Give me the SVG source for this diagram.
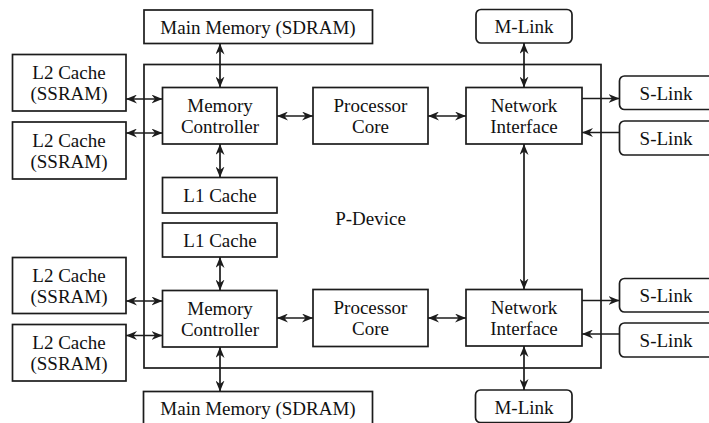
<svg xmlns="http://www.w3.org/2000/svg" width="709" height="423" viewBox="0 0 709 423">
  <defs>
    <style>
      .box { fill: #fff; stroke: #1c1c1c; stroke-width: 1.7; }
      .frame { fill: none; stroke: #1c1c1c; stroke-width: 1.7; }
      .lbl { font-family: "Liberation Serif", "DejaVu Serif", "Noto Serif", "Times New Roman", Times, serif; font-size: 19px; fill: #111; text-anchor: middle; }
      .wire { fill: none; stroke: #1c1c1c; stroke-width: 1.7; }
      .both { marker-start: url(#head); marker-end: url(#head); }
      .one { marker-end: url(#head); }
    </style>
    <marker id="head" markerUnits="userSpaceOnUse" viewBox="0 0 11 9" markerWidth="11" markerHeight="9" refX="11" refY="4.5" orient="auto-start-reverse">
      <path d="M0,0 L11,4.5 L0,9 L3.5,4.5 z" fill="#1c1c1c"/>
    </marker>
  </defs>

  <rect width="709" height="423" fill="#fff"/>

  <!-- P-Device enclosure -->
  <g id="p-device">
    <rect class="frame" x="144" y="64.5" width="457" height="303.5"/>
    <text class="lbl" x="370.5" y="225">P-Device</text>
  </g>

  <!-- Upper half -->
  <g id="main-memory-top">
    <rect class="box" x="144" y="10" width="228.5" height="33.5"/>
    <text class="lbl" x="258" y="34">Main Memory (SDRAM)</text>
  </g>
  <g id="mlink-top">
    <rect class="box" x="476" y="9.5" width="96" height="33.5" rx="5"/>
    <text class="lbl" x="524" y="33">M-Link</text>
  </g>
  <g id="l2-a">
    <rect class="box" x="12.5" y="54.5" width="113.5" height="56.5"/>
    <text class="lbl" x="69" y="79">L2 Cache</text>
    <text class="lbl" x="69" y="100">(SSRAM)</text>
  </g>
  <g id="l2-b">
    <rect class="box" x="12.5" y="122" width="113.5" height="57"/>
    <text class="lbl" x="69" y="147">L2 Cache</text>
    <text class="lbl" x="69" y="168">(SSRAM)</text>
  </g>
  <g id="memctl-top">
    <rect class="box" x="162.5" y="87.5" width="114.5" height="56.5"/>
    <text class="lbl" x="220" y="112">Memory</text>
    <text class="lbl" x="220" y="133">Controller</text>
  </g>
  <g id="core-top">
    <rect class="box" x="313" y="87.5" width="115" height="56.5"/>
    <text class="lbl" x="370.5" y="112">Processor</text>
    <text class="lbl" x="370.5" y="133">Core</text>
  </g>
  <g id="netif-top">
    <rect class="box" x="466" y="87.5" width="116" height="56.5"/>
    <text class="lbl" x="524" y="112">Network</text>
    <text class="lbl" x="524" y="133">Interface</text>
  </g>
  <g id="slink-1">
    <rect class="box" x="619.5" y="76" width="100" height="33.5" rx="5"/>
    <text class="lbl" x="666" y="99.5">S-Link</text>
  </g>
  <g id="slink-2">
    <rect class="box" x="619.5" y="121" width="100" height="34" rx="5"/>
    <text class="lbl" x="666" y="145">S-Link</text>
  </g>
  <g id="l1-a">
    <rect class="box" x="162.5" y="177.5" width="114.5" height="35.5"/>
    <text class="lbl" x="220" y="202">L1 Cache</text>
  </g>

  <!-- Lower half -->
  <g id="l1-b">
    <rect class="box" x="162.5" y="223" width="114.5" height="34"/>
    <text class="lbl" x="220" y="247">L1 Cache</text>
  </g>
  <g id="l2-c">
    <rect class="box" x="12.5" y="257.5" width="113.5" height="56"/>
    <text class="lbl" x="69" y="282">L2 Cache</text>
    <text class="lbl" x="69" y="303">(SSRAM)</text>
  </g>
  <g id="l2-d">
    <rect class="box" x="12.5" y="324.5" width="113.5" height="56.5"/>
    <text class="lbl" x="69" y="349">L2 Cache</text>
    <text class="lbl" x="69" y="370">(SSRAM)</text>
  </g>
  <g id="memctl-bottom">
    <rect class="box" x="162.5" y="290.5" width="114.5" height="56.5"/>
    <text class="lbl" x="220" y="315">Memory</text>
    <text class="lbl" x="220" y="336">Controller</text>
  </g>
  <g id="core-bottom">
    <rect class="box" x="313" y="289.5" width="115" height="57"/>
    <text class="lbl" x="370.5" y="314">Processor</text>
    <text class="lbl" x="370.5" y="335">Core</text>
  </g>
  <g id="netif-bottom">
    <rect class="box" x="466" y="289.5" width="116" height="56.5"/>
    <text class="lbl" x="524" y="314">Network</text>
    <text class="lbl" x="524" y="335">Interface</text>
  </g>
  <g id="slink-3">
    <rect class="box" x="619.5" y="278.5" width="100" height="33.5" rx="5"/>
    <text class="lbl" x="666" y="302">S-Link</text>
  </g>
  <g id="slink-4">
    <rect class="box" x="619.5" y="323" width="100" height="34" rx="5"/>
    <text class="lbl" x="666" y="347">S-Link</text>
  </g>
  <g id="main-memory-bottom">
    <rect class="box" x="143.5" y="391.5" width="229" height="40"/>
    <text class="lbl" x="258" y="414.5">Main Memory (SDRAM)</text>
  </g>
  <g id="mlink-bottom">
    <rect class="box" x="475.5" y="390" width="96.5" height="32.5" rx="5"/>
    <text class="lbl" x="524" y="413.5">M-Link</text>
  </g>

  <!-- Connectors -->
  <g id="connectors">
    <line class="wire both" x1="220" y1="43.5" x2="220" y2="87.5"/>
    <line class="wire both" x1="126" y1="99" x2="162.5" y2="99"/>
    <line class="wire both" x1="126" y1="133" x2="162.5" y2="133"/>
    <line class="wire both" x1="277" y1="116" x2="313" y2="116"/>
    <line class="wire both" x1="428" y1="116" x2="466" y2="116"/>
    <line class="wire both" x1="524" y1="43" x2="524" y2="87.5"/>
    <line class="wire one" x1="582" y1="98.5" x2="619.5" y2="98.5"/>
    <line class="wire one" x1="619.5" y1="132.5" x2="582" y2="132.5"/>
    <line class="wire both" x1="220" y1="144" x2="220" y2="177.5"/>
    <line class="wire both" x1="524" y1="144" x2="524" y2="289.5"/>

    <line class="wire both" x1="220" y1="257" x2="220" y2="290.5"/>
    <line class="wire both" x1="126" y1="301" x2="162.5" y2="301"/>
    <line class="wire both" x1="126" y1="335.5" x2="162.5" y2="335.5"/>
    <line class="wire both" x1="277" y1="318" x2="313" y2="318"/>
    <line class="wire both" x1="428" y1="318" x2="466" y2="318"/>
    <line class="wire both" x1="220" y1="347" x2="220" y2="391.5"/>
    <line class="wire both" x1="524" y1="346" x2="524" y2="390"/>
    <line class="wire one" x1="582" y1="300.5" x2="619.5" y2="300.5"/>
    <line class="wire one" x1="619.5" y1="334" x2="582" y2="334"/>
  </g>
</svg>
